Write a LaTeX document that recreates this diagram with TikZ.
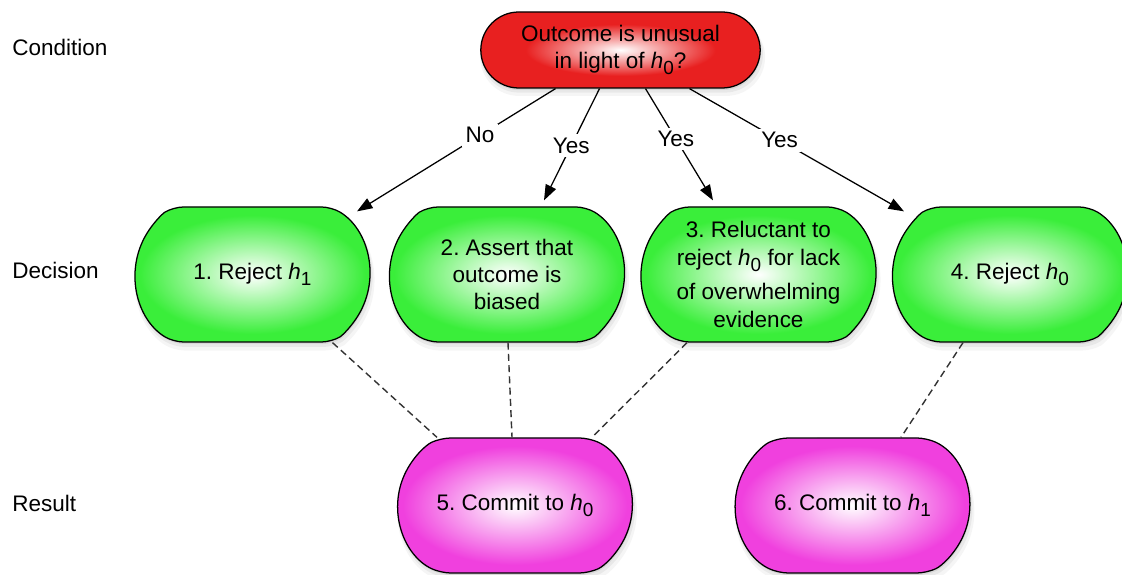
\documentclass[tikz,border=0pt]{standalone}
\usepackage{fontspec}
\setmainfont{Liberation Sans}
\usetikzlibrary{shapes.misc,shadows,arrows.meta}

\definecolor{condred}{RGB}{232,32,32}
\definecolor{condredd}{RGB}{198,24,34}
\definecolor{decgreen}{RGB}{58,238,58}
\definecolor{decgreend}{RGB}{38,198,38}
\definecolor{respink}{RGB}{240,64,222}
\definecolor{respinkd}{RGB}{204,44,186}

\pgfdeclareradialshading{redglow}{\pgfpoint{0bp}{0bp}}{color(0bp)=(white); color(17bp)=(condred); color(38bp)=(condred); color(50bp)=(condredd)}
\pgfdeclareradialshading{greenglow}{\pgfpoint{0bp}{0bp}}{color(0bp)=(white); color(22bp)=(decgreen); color(40bp)=(decgreen); color(50bp)=(decgreend)}
\pgfdeclareradialshading{pinkglow}{\pgfpoint{0bp}{0bp}}{color(0bp)=(white); color(22bp)=(respink); color(40bp)=(respink); color(50bp)=(respinkd)}

\newcommand{\hsub}[1]{\textit{h}\raisebox{-0.28em}{\fontsize{13.5}{13.5}\selectfont#1}}

\tikzset{
    txt/.style={font=\fontsize{16}{19.5}\selectfont\frenchspacing},
    softshadow/.style={
        drop shadow={opacity=0.16, shadow xshift=0.5pt, shadow yshift=-1.5pt},
        drop shadow={opacity=0.11, shadow xshift=1pt, shadow yshift=-3pt, shadow scale=1.01},
        drop shadow={opacity=0.08, shadow xshift=1.5pt, shadow yshift=-5pt, shadow scale=1.02}},
    blocco/.style={txt, rounded rectangle, draw=black, line width=0.9pt, softshadow,
        minimum width=6cm, minimum height=3.375cm, align=center, inner sep=2pt},
    condnode/.style={blocco, shading=redglow, rounded rectangle arc length=180,
        minimum width=7.125cm, minimum height=1.9cm},
    decnode/.style={blocco, shading=greenglow, rounded rectangle arc length=118, rounded corners=7pt},
    resnode/.style={blocco, shading=pinkglow, rounded rectangle arc length=130, rounded corners=7pt},
    rowlabel/.style={txt, anchor=west, inner sep=0pt},
    answer/.style={txt, fill=white, inner sep=2.5pt},
    link/.style={draw=black!80, line width=1pt, dash pattern=on 5pt off 3pt}
}

\begin{document}
\begin{tikzpicture}[>={Triangle[length=11pt,width=8pt]}]
    \useasboundingbox (0,0) rectangle (28.05,14.375);

    % Etichette delle righe
    \node[rowlabel] (lcond) at (0.3,13.2) {Condition};
    \node[rowlabel] (ldec) at (0.3,7.625) {Decision};
    \node[rowlabel] (lres) at (0.3,1.8) {Result};

    % Condizione
    \node[condnode] (cond) at (15.5125,13.125) {Outcome is unusual\\in light of \hsub{0}?};

    % Decisioni
    \node[decnode] (d1) at (6.3125,7.5125) {1. Reject \hsub{1}};
    \node[decnode] (d2) at (12.675,7.5125) {2. Assert that\\outcome is\\biased};
    \node[decnode] (d3) at (18.9625,7.5125) {3. Reluctant to\\reject \hsub{0} for lack\\[5pt]of overwhelming\\evidence};
    \node[decnode] (d4) at (25.25,7.5125) {4. Reject \hsub{0}};

    % Risultati
    \node[resnode] (r5) at (12.875,1.7375) {5. Commit to \hsub{0}};
    \node[resnode] (r6) at (21.3125,1.7375) {6. Commit to \hsub{1}};

    % Frecce dalla condizione
    \draw[->, line width=0.9pt] ([xshift=-1.625cm]cond.south) -- node[answer, pos=0.38] {No} ([xshift=2.6125cm, yshift=-0.125cm]d1.north);
    \draw[->, line width=0.9pt] ([xshift=-0.525cm]cond.south) -- node[answer, pos=0.51] {Yes} ([xshift=0.925cm, yshift=0.15cm]d2.north);
    \draw[->, line width=0.9pt] ([xshift=0.625cm]cond.south) -- node[answer, pos=0.45] {Yes} ([xshift=-1.1375cm, yshift=0.15cm]d3.north);
    \draw[->, line width=0.9pt] ([xshift=1.725cm]cond.south) -- node[answer, pos=0.42] {Yes} ([xshift=-2.65cm, yshift=-0.125cm]d4.north);

    % Collegamenti tratteggiati
    \draw[link] ([xshift=2cm]d1.south) -- ([xshift=-1.95cm]r5.north);
    \draw[link] ([xshift=0.025cm]d2.south) -- ([xshift=-0.075cm]r5.north);
    \draw[link] ([xshift=-1.7875cm]d3.south) -- ([xshift=1.925cm]r5.north);
    \draw[link] ([xshift=-1.175cm]d4.south) -- ([xshift=1.2125cm]r6.north);

\end{tikzpicture}
\end{document}
